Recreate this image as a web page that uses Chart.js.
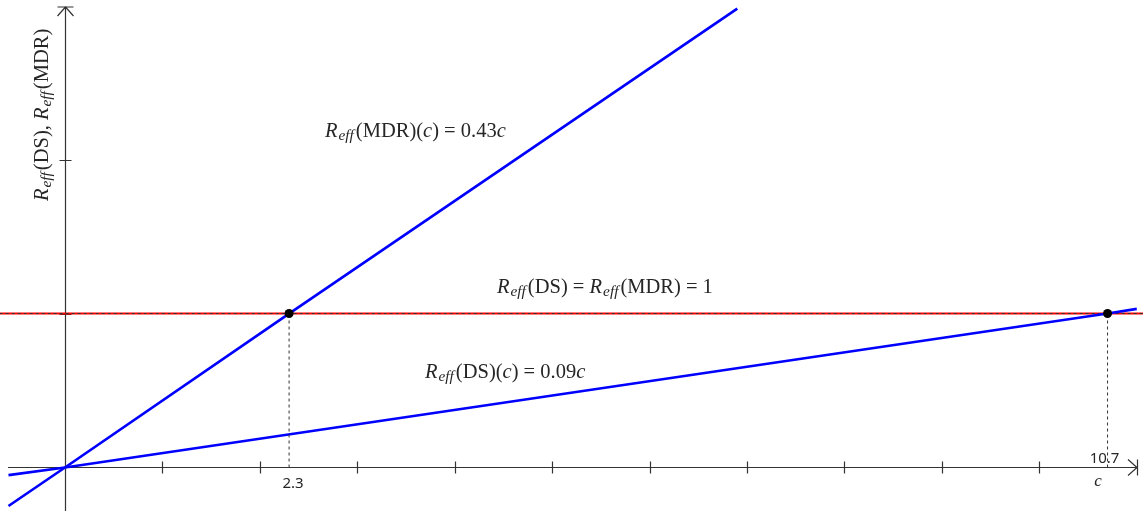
<!DOCTYPE html>
<html>
<head>
<meta charset="utf-8">
<script src="https://cdn.jsdelivr.net/npm/chart.js@4.4.1/dist/chart.umd.min.js"></script>
<style>
html,body{margin:0;padding:0;background:#fff;}
#wrap{width:1143px;height:511px;position:relative;}
</style>
</head>
<body>
<div id="wrap"><canvas id="c" width="1143" height="511"></canvas></div>
<script>
// ---- data ----
const mdrC = [-0.58, 0, 2.3, 6.9];
const mdrR = [-0.25, 0, 1, 2.98];
const dsC = [-0.58, 0, 10.7, 11.0];
const dsR = [-0.05, 0, 1, 1.03];
const thresholdC = [-0.67, 11.07];
const thresholdR = [1, 1];
const crossC = [2.3, 10.7];
const crossR = [1, 1];
const xTickValues = [1, 2, 3, 4, 5, 6, 7, 8, 9, 10];
const yTickValues = [1, 2];
const xLabelValues = [2.3, 10.7];
const xLabelTexts = ['2.3', '10.7'];
const xAxisTitle = 'c';

const pts = (xs, ys) => xs.map((x, i) => ({x: x, y: ys[i]}));

const AX = '#333333';
const TXT = '#262626';
const SERIF = '"Liberation Serif", "DejaVu Serif", serif';

function richText(ctx, x, y, segs, size, rotate) {
  ctx.save();
  ctx.translate(x, y);
  if (rotate) ctx.rotate(-Math.PI / 2);
  ctx.fillStyle = TXT;
  ctx.textBaseline = 'alphabetic';
  ctx.textAlign = 'left';
  let cx = 0;
  for (const s of segs) {
    const fs = s.sub ? size * 0.75 : size;
    ctx.font = (s.i ? 'italic ' : '') + fs + 'px ' + SERIF;
    ctx.fillText(s.t, cx, s.sub ? size * 0.15 : 0);
    cx += ctx.measureText(s.t).width + (s.sp || 0);
  }
  ctx.restore();
}
const R = [{t: 'R', i: true, sp: 1}, {t: 'eff', i: true, sub: true, sp: 2}];

const axesPlugin = {
  id: 'axesPlugin',
  beforeDatasetsDraw(chart) {
    const ctx = chart.ctx, xs = chart.scales.x, ys = chart.scales.y;
    const ox = Math.round(xs.getPixelForValue(0)) + 0.5, oy = Math.round(ys.getPixelForValue(0)) + 0.5;
    ctx.save();
    ctx.strokeStyle = AX;
    ctx.lineWidth = 1.2;
    ctx.beginPath();
    ctx.moveTo(8, oy); ctx.lineTo(1137, oy);
    ctx.moveTo(1128, oy - 8); ctx.lineTo(1137, oy); ctx.lineTo(1128, oy + 8);
    ctx.moveTo(1137.5, oy - 8); ctx.lineTo(1137.5, oy + 8);
    ctx.moveTo(ox, 511); ctx.lineTo(ox, 7);
    ctx.moveTo(ox - 8, 16); ctx.lineTo(ox, 7); ctx.lineTo(ox + 8, 16);
    ctx.moveTo(ox - 8, 7); ctx.lineTo(ox + 8, 7);
    for (const v of xTickValues) {
      const px = Math.round(xs.getPixelForValue(v)) + 0.5;
      ctx.moveTo(px, oy - 6); ctx.lineTo(px, oy + 6);
    }
    for (const v of yTickValues) {
      const py = Math.round(ys.getPixelForValue(v)) + 0.5;
      ctx.moveTo(ox - 6, py); ctx.lineTo(ox + 6, py);
    }
    ctx.stroke();
    ctx.restore();
  },
  afterDatasetsDraw(chart) {
    const ctx = chart.ctx, xs = chart.scales.x, ys = chart.scales.y;
    const oy = ys.getPixelForValue(0);
    ctx.save();
    ctx.fillStyle = TXT;
    ctx.font = '15px "Noto Sans", "Open Sans", sans-serif';
    ctx.textAlign = 'center';
    ctx.textBaseline = 'middle';
    ctx.fillText(xLabelTexts[0], xs.getPixelForValue(xLabelValues[0]) + 4, oy + 16);
    ctx.fillText(xLabelTexts[1], xs.getPixelForValue(xLabelValues[1]) - 3, oy - 9);
    ctx.font = 'italic 17px ' + SERIF;
    ctx.fillText(xAxisTitle, 1098, oy + 14);
    ctx.restore();

    const fs = 20.5;
    richText(ctx, 325, 137, R.concat([{t: '(MDR)('}, {t: 'c', i: true}, {t: ') = 0.43'}, {t: 'c', i: true}]), fs);
    richText(ctx, 497, 293, R.concat([{t: '(DS) = '}], R, [{t: '(MDR) = 1'}]), fs);
    richText(ctx, 425, 378, R.concat([{t: '(DS)('}, {t: 'c', i: true}, {t: ') = 0.09'}, {t: 'c', i: true}]), fs);
    richText(ctx, 48, 201, R.concat([{t: '(DS), '}], R, [{t: '(MDR)'}]), fs, true);
  }
};

const BLUE = '#0000ff';
new Chart(document.getElementById('c'), {
  type: 'scatter',
  data: {
    datasets: [
      {data: pts(crossC, crossR), showLine: false, pointRadius: 4.5, pointBackgroundColor: '#000', pointBorderColor: '#000', pointBorderWidth: 0},
      {data: [{x: crossC[0], y: 0}, {x: crossC[0], y: crossR[0]}], showLine: true, borderColor: '#333', borderWidth: 1, borderDash: [3, 3], pointRadius: 0},
      {data: [{x: crossC[1], y: 0}, {x: crossC[1], y: crossR[1]}], showLine: true, borderColor: '#333', borderWidth: 1, borderDash: [3, 3], pointRadius: 0},
      {data: pts(mdrC, mdrR), showLine: true, borderColor: BLUE, borderWidth: 2.7, pointRadius: 0},
      {data: pts(dsC, dsR), showLine: true, borderColor: BLUE, borderWidth: 2.7, pointRadius: 0},
      {data: pts(thresholdC, thresholdR), showLine: true, borderColor: '#333', borderWidth: 1, borderDash: [3, 3], pointRadius: 0},
      {data: pts(thresholdC, thresholdR), showLine: true, borderColor: '#ff0000', borderWidth: 2.2, pointRadius: 0}
    ]
  },
  options: {
    responsive: false,
    animation: false,
    events: [],
    layout: {padding: 0, autoPadding: false},
    plugins: {legend: {display: false}, tooltip: {enabled: false}},
    scales: {
      x: {type: 'linear', display: false, min: -0.667, max: 11.064},
      y: {type: 'linear', display: false, min: -0.2825, max: 3.036}
    }
  },
  plugins: [axesPlugin]
});
</script>
</body>
</html>
